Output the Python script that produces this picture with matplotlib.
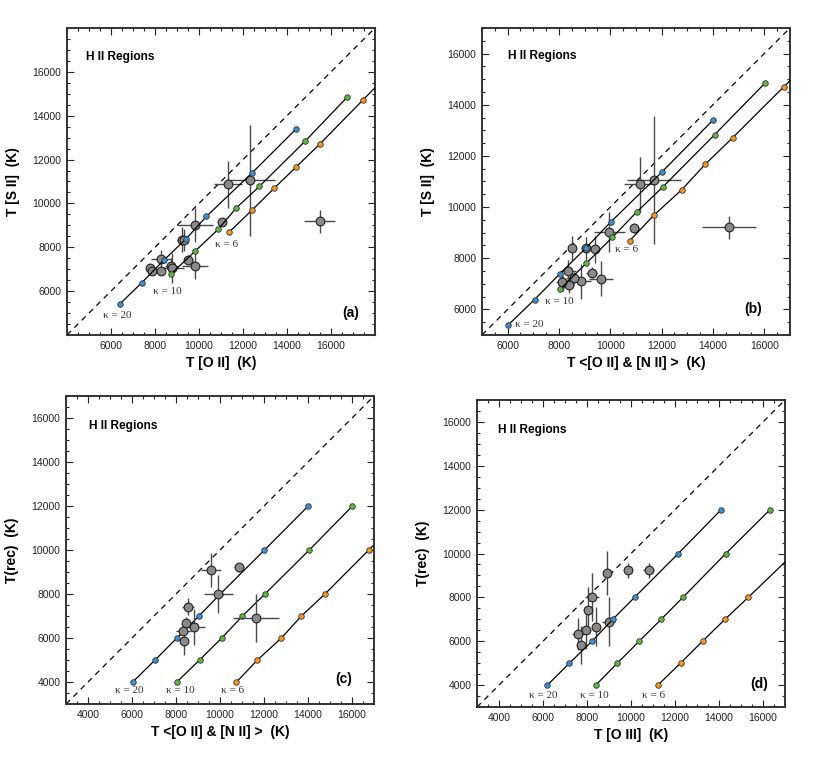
import matplotlib
matplotlib.use('Agg')
import matplotlib.pyplot as plt
from matplotlib.ticker import MultipleLocator

# model curves (kappa = 20 / 10 / 6)
# T[S II] of the models, shared by panels (a) and (b)
sii_k20 = [5400, 6385, 7400, 8390, 9410, 11380, 13410]
sii_k10 = [6790, 7810, 8815, 9800, 10780, 12825, 14840]
sii_k6 = [8680, 9685, 10685, 11675, 12715, 14705, 16700]
# T[O II] of the models (panel a)
oii_k20 = [6390, 7400, 8390, 9420, 10340, 12400, 14430]
oii_k10 = [8740, 9810, 10870, 11700, 12750, 14810, 16730]
oii_k6 = [11360, 12400, 13410, 14430, 15500, 17440, 19400]
# T<[O II] & [N II]> of the models (panels b, c)
on_k20 = [6030, 7050, 8040, 9040, 10010, 12020, 14010]
on_k10 = [8040, 9070, 10080, 11020, 12040, 14060, 16020]
on_k6 = [10750, 11700, 12790, 13700, 14770, 16760, 18800]
# T(rec) of the models (panels c, d)
rec_model = [4000, 5000, 6000, 7000, 8000, 10000, 12000]
# T[O III] of the models (panel d)
oiii_k20 = [6200, 7200, 8230, 9170, 10160, 12150, 14100]
oiii_k10 = [8400, 9380, 10370, 11370, 12360, 14310, 16320]
oiii_k6 = [11220, 12250, 13250, 14270, 15330, 17400, 19400]

# observed H II regions
a_x = [11310, 12340, 9810, 11050, 9220, 9310, 8270, 7780, 7860, 8280, 8740, 8770, 9520, 9810, 15480]
a_y = [10880, 11050, 9020, 9170, 8340, 8340, 7480, 7050, 6940, 6920, 7150, 7060, 7430, 7160, 9190]
a_xerr = [650, 1100, 810, 150, 200, 150, 450, 150, 150, 150, 300, 530, 200, 600, 700]
a_yerr = [1070, 2530, 760, 150, 570, 500, 400, 200, 150, 150, 350, 680, 200, 600, 530]

b_x = [11165, 11700, 9955, 10930, 8490, 9046, 9400, 8355, 9267, 9630, 8840, 8590, 8160, 8400, 8100, 14630]
b_y = [10900, 11050, 9040, 9190, 8400, 8390, 8350, 7520, 7440, 7190, 7100, 7230, 7020, 6960, 7080, 9210]
b_xerr = [630, 1040, 610, 180, 150, 180, 150, 325, 230, 455, 390, 300, 200, 200, 200, 1050]
b_yerr = [1075, 2510, 780, 200, 480, 440, 535, 420, 230, 685, 685, 250, 300, 300, 250, 460]

c_x = [9590, 10860, 9930, 8540, 8450, 8810, 8320, 8360, 11630]
c_y = [9090, 9210, 8000, 7420, 6670, 6490, 6320, 5860, 6900]
c_xerr = [450, 220, 640, 260, 150, 490, 340, 150, 1050]
c_yerr = [760, 190, 870, 380, 300, 820, 200, 640, 1080]

d_x = [8920, 9850, 10800, 8230, 8030, 8430, 8980, 7950, 7590, 7740]
d_y = [9110, 9230, 9230, 8010, 7440, 6670, 6900, 6520, 6330, 5840]
d_xerr = [150, 150, 260, 300, 150, 150, 300, 150, 260, 200]
d_yerr = [990, 340, 340, 1100, 1025, 870, 1140, 870, 740, 860]

kappa_labels = ['\u03ba = 20', '\u03ba = 10', '\u03ba = 6']
col_k = ['#3d8fd1', '#5cb83f', '#f5981f']

plt.rcParams['font.family'] = 'Liberation Sans'
plt.rcParams['xtick.direction'] = 'in'
plt.rcParams['ytick.direction'] = 'in'

fig = plt.figure(figsize=(8.3, 7.69), dpi=100)


def panel(rect, lim, ticks, models, obs, kpos, xlabel, ylabel, tag, tagpos, data_top):
    ax = fig.add_axes(rect)
    ax.set_xlim(lim)
    ax.set_ylim(lim)
    # 1:1 line
    ax.axline((lim[0], lim[0]), slope=1, color='k', lw=0.9, dashes=(4.5, 3.8), zorder=1)
    zm = 2 if data_top else 4
    for (mx, my), c in zip(models, col_k):
        ax.plot(mx, my, '-', color='k', lw=0.9, zorder=zm)
        ax.plot(mx, my, 'o', ms=4, mfc=c, mec='#333333', mew=0.6, zorder=zm)
    x, y, xe, ye = obs
    ax.errorbar(x, y, xerr=xe, yerr=ye, fmt='o', ms=6.3, mfc='#8a8a8a', mec='#222222',
                mew=0.8, ecolor='#484848', elinewidth=1.0, capsize=0, zorder=3)
    for (tx, ty), s in zip(kpos, kappa_labels):
        ax.text(tx, ty, s, family='Liberation Serif', fontsize=8, color='#333333',
                ha='center', va='center')
    ax.text(tagpos[0], tagpos[1], 'H II Regions', transform=ax.transAxes,
            fontsize=8.6, fontweight='bold', ha='left', va='center')
    ax.text(tag[1], tag[2], tag[0], transform=ax.transAxes, fontsize=10,
            fontweight='bold', ha='center', va='center')
    ax.set_xticks(ticks)
    ax.set_yticks(ticks)
    ax.xaxis.set_minor_locator(MultipleLocator(500))
    ax.yaxis.set_minor_locator(MultipleLocator(500))
    ax.tick_params(which='both', top=True, right=True, labelsize=7.5, width=0.8, colors='#222222')
    ax.tick_params(which='major', length=5, pad=4)
    ax.tick_params(which='minor', length=2.5)
    for sp in ax.spines.values():
        sp.set_linewidth(1.4)
        sp.set_color('#333333')
    ax.set_xlabel(xlabel, fontsize=10, fontweight='bold', labelpad=4)
    ax.set_ylabel(ylabel, fontsize=10, fontweight='bold', labelpad=9)
    return ax


ticks_ab = [6000, 8000, 10000, 12000, 14000, 16000]
ticks_cd = [4000, 6000, 8000, 10000, 12000, 14000, 16000]

panel([0.0807, 0.5644, 0.3711, 0.3992], (4000, 18000), ticks_ab,
      [(oii_k20, sii_k20), (oii_k10, sii_k10), (oii_k6, sii_k6)],
      (a_x, a_y, a_xerr, a_yerr),
      [(6300, 4900), (8540, 5980), (11270, 8140)],
      'T [O II]  (K)', 'T [S II]  (K)', ('(a)', 0.92, 0.072), (0.062, 0.906), False)

panel([0.5807, 0.5644, 0.3711, 0.3992], (5000, 17000), ticks_ab,
      [(on_k20, sii_k20), (on_k10, sii_k10), (on_k6, sii_k6)],
      (b_x, b_y, b_xerr, b_yerr),
      [(6860, 5390), (8030, 6290), (10630, 8330)],
      'T <[O II] & [N II] >  (K)', 'T [S II]  (K)', ('(b)', 0.88, 0.085), (0.084, 0.909), False)

panel([0.0795, 0.0845, 0.3711, 0.4005], (3000, 17000), ticks_cd,
      [(on_k20, rec_model), (on_k10, rec_model), (on_k6, rec_model)],
      (c_x, c_y, c_xerr, c_yerr),
      [(5880, 3620), (8180, 3620), (10590, 3620)],
      'T <[O II] & [N II] >  (K)', 'T(rec)  (K)', ('(c)', 0.90, 0.081), (0.075, 0.903), True)

panel([0.5747, 0.0806, 0.3711, 0.3992], (3000, 17000), ticks_cd,
      [(oiii_k20, rec_model), (oiii_k10, rec_model), (oiii_k6, rec_model)],
      (d_x, d_y, d_xerr, d_yerr),
      [(5990, 3545), (8340, 3545), (11030, 3545)],
      'T [O III]  (K)', 'T(rec)  (K)', ('(d)', 0.916, 0.075), (0.068, 0.902), False)

fig.savefig('out.png', dpi=100)
